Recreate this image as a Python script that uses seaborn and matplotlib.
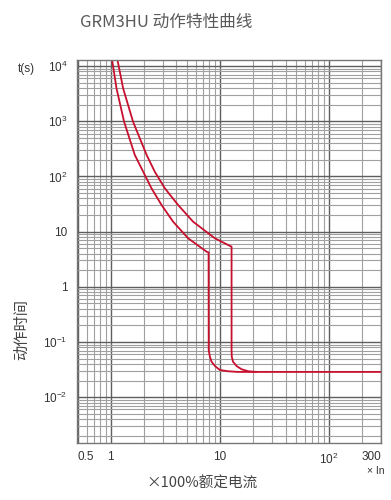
import numpy as np
import pandas as pd
import seaborn as sns
import matplotlib
matplotlib.use("Agg")
import matplotlib.pyplot as plt
from matplotlib.ticker import FixedLocator, LogLocator, NullFormatter

# ---- data ----
curve1_x = [1.028, 1.128, 1.324, 1.66, 2.36, 2.92, 3.73, 5.12, 7.55, 7.88,
            7.9, 8.10, 8.39, 9.0, 10.0, 11.9, 14.6, 300]
curve1_t = [12880, 3955, 981, 245, 61.0, 30.4, 15.1, 7.57, 4.33, 4.2,
            0.0716, 0.0542, 0.0440, 0.0368, 0.0311, 0.0295, 0.0287, 0.0287]
curve2_x = [1.152, 1.297, 1.60, 2.13, 2.53, 3.13, 4.14, 5.69, 9.0, 12.8,
            12.8, 12.85, 13.2, 14.2, 15.8, 18.2, 21.7]
curve2_t = [12880, 3955, 981, 245, 122, 61.0, 30.4, 15.1, 7.57, 5.33,
            0.0716, 0.0542, 0.0440, 0.0368, 0.0321, 0.0295, 0.0287]

x_ticks = [0.5, 1, 10, 100, 300]
x_ticklabels = ["0.5", "1", "10", "10$^2$", "300"]
y_ticks = [1e4, 1e3, 1e2, 10, 1, 0.1, 0.01]
y_ticklabels = ["10$^4$", "10$^3$", "10$^2$", "10", "1", "10$^{-1}$", "10$^{-2}$"]

title = "GRM3HU 动作特性曲线"
xlabel = "×100%额定电流"
ylabel = "动作时间"

sns.set_theme(style="white")
plt.rcParams['font.family'] = ['Noto Sans CJK SC', 'DejaVu Sans']
plt.rcParams['mathtext.fontset'] = 'custom'
plt.rcParams['mathtext.rm'] = 'Liberation Sans'
plt.rcParams['mathtext.it'] = 'Liberation Sans'
plt.rcParams['mathtext.bf'] = 'Liberation Sans'

narrow = ['Liberation Sans Narrow', 'Liberation Sans', 'DejaVu Sans']

fig = plt.figure(figsize=(3.91, 5.0), dpi=100)
ax = fig.add_axes([77/391, 1-443/500, (381-77)/391, (443-60)/500])

red = "#c8102e"
df1 = pd.DataFrame({"x": curve1_x, "t": curve1_t})
df2 = pd.DataFrame({"x": curve2_x, "t": curve2_t})
sns.lineplot(data=df1, x="x", y="t", sort=False, estimator=None, color=red, lw=1.3, ax=ax)
sns.lineplot(data=df2, x="x", y="t", sort=False, estimator=None, color=red, lw=1.3, ax=ax)

ax.set_xscale("log")
ax.set_yscale("log")
ax.set_xlim(0.49, 300)
ax.set_ylim(10**-2.83, 10**4.11)

ax.xaxis.set_major_locator(FixedLocator(x_ticks))
ax.set_xticklabels(x_ticklabels, family=narrow)
ax.yaxis.set_major_locator(FixedLocator(y_ticks))
ax.set_yticklabels(y_ticklabels, family=narrow)
ax.xaxis.set_minor_locator(LogLocator(base=10, subs=np.arange(2, 10)))
ax.yaxis.set_minor_locator(LogLocator(base=10, subs=np.arange(2, 10)))
ax.xaxis.set_minor_formatter(NullFormatter())
ax.yaxis.set_minor_formatter(NullFormatter())

ax.grid(True, which="major", color="#5e5e5e", lw=1.0)
ax.grid(True, which="minor", color="#a0a0a0", lw=0.8)
ax.set_axisbelow(True)
for s in ax.spines.values():
    s.set_color("#777777")
    s.set_linewidth(1.0)

ax.tick_params(axis="y", which="both", length=0, labelsize=8.5, labelcolor="#333333", pad=7)
ax.tick_params(axis="x", which="both", length=0, labelsize=8.5, labelcolor="#333333", pad=6)
ax.get_xticklabels()[-1].set_ha("right")
ax.get_xticklabels()[0].set_ha("left")
ax.set_xlabel("")
ax.set_ylabel("")

fig.text(80/391, 1-22/500, title, fontsize=12, color="#5a5a5a", ha="left", va="center")
fig.text(202/391, 1-484/500, xlabel, fontsize=10.5, color="#444444", ha="center", va="center")
fig.text(22/391, 1-330/500, ylabel, fontsize=11, color="#444444", ha="center", va="center", rotation=90)
fig.text(26/391, 1-69/500, "t(s)", fontsize=8.5, color="#333333", ha="center", va="center", family=narrow)
fig.text(376/391, 1-471/500, "× In", fontsize=7.5, color="#333333", ha="center", va="center", family=narrow)

fig.savefig("out.png", dpi=100)
